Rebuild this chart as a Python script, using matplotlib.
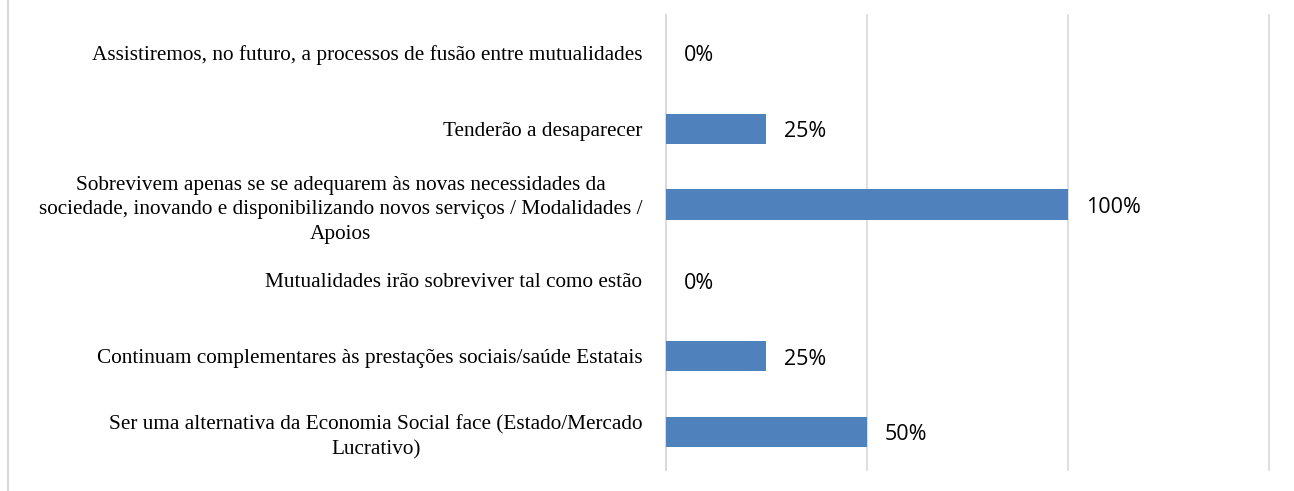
import matplotlib.pyplot as plt
from matplotlib.lines import Line2D

# categories listed from top to bottom as shown in the chart
labels = [
    "Assistiremos, no futuro, a processos de fusão entre mutualidades",
    "Tenderão a desaparecer",
    "Sobrevivem apenas se se adequarem às novas necessidades da\n"
    "sociedade, inovando e disponibilizando novos serviços / Modalidades /\n"
    "Apoios",
    "Mutualidades irão sobreviver tal como estão",
    "Continuam complementares às prestações sociais/saúde Estatais",
    "Ser uma alternativa da Economia Social face (Estado/Mercado\n"
    "Lucrativo)",
]
values = [0, 25, 100, 0, 25, 50]

fig = plt.figure(figsize=(12.94, 4.91), dpi=100)
ax = fig.add_axes([666 / 1294, 1 - 470 / 491, (1268.5 - 666) / 1294, 455 / 491])

pos = list(range(len(labels)))
ax.barh(pos, values, height=0.4, color="#4F81BD", zorder=3)
ax.set_xlim(0, 150)
ax.set_ylim(len(labels) - 0.5, -0.5)

ax.set_xticks([0, 50, 100, 150])
ax.set_xticklabels([])
ax.tick_params(axis="x", length=0)
ax.grid(axis="x", color="#D9D9D9", linewidth=1.2, zorder=0)
for gl in ax.get_xgridlines():
    gl.set_clip_on(False)

ax.set_yticks(pos)
ax.set_yticklabels(labels, family="Liberation Serif", fontsize=15.3,
                   multialignment="center", linespacing=1.4)
ax.tick_params(axis="y", length=0, pad=17)

for s in ["top", "right", "bottom"]:
    ax.spines[s].set_visible(False)
ax.spines["left"].set_color("#D9D9D9")
ax.spines["left"].set_linewidth(1.2)

for p, v in zip(pos, values):
    ax.annotate(f"{v}%", (v, p), xytext=(13, -2), textcoords="offset points",
                ha="left", va="center", family="Open Sans", fontsize=15.5)

# outer chart frame edge on the left
fig.add_artist(Line2D([7.5 / 1294, 7.5 / 1294], [0, 1], color="#D9D9D9",
                      linewidth=1.5, transform=fig.transFigure))

fig.savefig("out.png", dpi=100, facecolor="white")
